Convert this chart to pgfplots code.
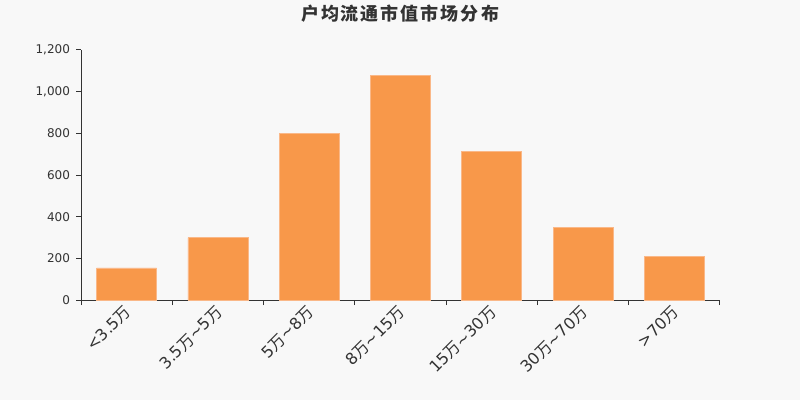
\documentclass[border=0pt]{standalone}
\usepackage{pgfplots}
\pgfplotsset{compat=1.18}
\usepackage{fontspec}
\setmainfont{DejaVu Sans}
\newfontfamily\cjk{Noto Sans CJK SC}
\definecolor{bg}{HTML}{F8F8F8}
\definecolor{barfill}{HTML}{F8984A}
\definecolor{baredge}{HTML}{FAB888}
\definecolor{axisgray}{HTML}{333333}
\newcommand{\wan}{{\cjk 万}}
\newcommand{\g}{\kern1.5pt}
\begin{document}
\begin{tikzpicture}[x=0.75pt,y=0.75pt]
  % canvas 800 x 400 px
  \fill[bg] (0,0) rectangle (800,400);
  \useasboundingbox (0,0) rectangle (800,400);
  \node[font=\cjk\bfseries\fontsize{13.5pt}{15pt}\selectfont, text=axisgray] at (400,386)
    {户\g{}均\g{}流\g{}通\g{}市\g{}值\g{}市\g{}场\g{}分\g{}布};
  \begin{axis}[
      at={(81*0.75pt,100*0.75pt)}, anchor=south west,
      scale only axis,
      width=639*0.75pt, height=250*0.75pt,
      ybar, bar width=60*0.75pt, bar shift=0pt,
      xmin=-0.5, xmax=6.5,
      ymin=0, ymax=1200,
      ytick={0,200,...,1200},
      xtick={0,...,6},
      xticklabels={<3.5\wan, 3.5\wan\textasciitilde5\wan, 5\wan\textasciitilde8\wan,
        8\wan\textasciitilde15\wan, 15\wan\textasciitilde30\wan,
        30\wan\textasciitilde70\wan, >70\wan},
      minor xtick={-0.5,0.5,...,6.5},
      axis x line*=bottom, axis y line*=left,
      axis line style={draw=axisgray, line width=0.75pt, -},
      tick align=outside,
      major x tick style={draw=none},
      minor x tick style={draw=axisgray, line width=0.75pt},
      minor tick length=3.75pt,
      y tick style={draw=axisgray, line width=0.75pt},
      major tick length=3.75pt,
      scaled y ticks=false,
      /pgf/number format/assume math mode=true,
      yticklabel style={/pgf/number format/1000 sep={,}, font=\fontsize{9pt}{10pt}\selectfont, text=axisgray, xshift=-1pt},
      xticklabel style={rotate=45, anchor=east, inner sep=1pt, font=\fontsize{12pt}{13pt}\selectfont, text=axisgray, yshift=-3pt},
    ]
    \addplot[fill=barfill, draw=baredge, line width=0.5pt] coordinates {
      (0,154) (1,300) (2,800) (3,1077) (4,715) (5,350) (6,211)
    };
  \end{axis}
\end{tikzpicture}
\end{document}
